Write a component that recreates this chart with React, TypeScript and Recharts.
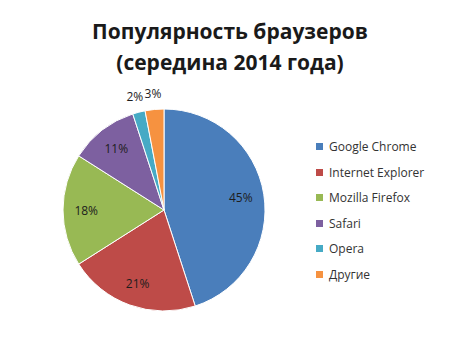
import { PieChart, Pie, Cell, Legend } from "recharts";

const browsers = ["Google Chrome", "Internet Explorer", "Mozilla Firefox", "Safari", "Opera", "Другие"];
const shares = [45, 21, 18, 11, 2, 3];
const colors = ["#4A7EBB", "#BE4B48", "#98B954", "#7D60A0", "#46AAC5", "#F69240"];

const data = browsers.map((name, i) => ({ name, value: shares[i] }));

const RADIAN = Math.PI / 180;
const FONT = "'Open Sans', 'DejaVu Sans', sans-serif";

// small slices get their label outside the pie
function renderLabel(props: any) {
  const { cx, cy, midAngle, outerRadius, value } = props;
  const r = value < 5 ? outerRadius * 1.16 : outerRadius * 0.77;
  const x = cx + r * Math.cos(-midAngle * RADIAN);
  const y = cy + r * Math.sin(-midAngle * RADIAN);
  return (
    <text
      x={x}
      y={y}
      textAnchor="middle"
      dominantBaseline="central"
      fontFamily={FONT}
      fontSize={12}
      fill="#1d1d1d"
    >
      {`${value}%`}
    </text>
  );
}

function LegendBox() {
  return (
    <div style={{ fontFamily: FONT, fontSize: 12, color: "#333" }}>
      {data.map((d, i) => (
        <div key={d.name} style={{ display: "flex", alignItems: "center", height: 25.5 }}>
          <span style={{ width: 7, height: 7, background: colors[i], marginRight: 6, display: "inline-block" }} />
          {d.name}
        </div>
      ))}
    </div>
  );
}

export default function App() {
  return (
    <div style={{ position: "absolute", left: 0, top: 0, width: 460, height: 345, background: "#fff" }}>
      <div
        style={{
          position: "absolute",
          left: 0,
          top: 16,
          width: 460,
          textAlign: "center",
          fontFamily: FONT,
          fontWeight: 700,
          fontSize: 21,
          lineHeight: "31px",
          color: "#1a1a1a",
        }}
      >
        Популярность браузеров
        <br />
        (середина 2014 года)
      </div>
      <PieChart width={460} height={345} margin={{ top: 0, right: 0, bottom: 0, left: 0 }}>
        <Pie
          data={data}
          dataKey="value"
          nameKey="name"
          cx={164}
          cy={210}
          outerRadius={101}
          startAngle={90}
          endAngle={-270}
          stroke="#fff"
          strokeWidth={1}
          label={renderLabel}
          labelLine={false}
          isAnimationActive={false}
        >
          {data.map((d, i) => (
            <Cell key={d.name} fill={colors[i]} />
          ))}
        </Pie>
        <Legend
          layout="vertical"
          content={() => <LegendBox />}
          wrapperStyle={{ position: "absolute", left: 316, top: 134, width: 140 }}
        />
      </PieChart>
    </div>
  );
}
